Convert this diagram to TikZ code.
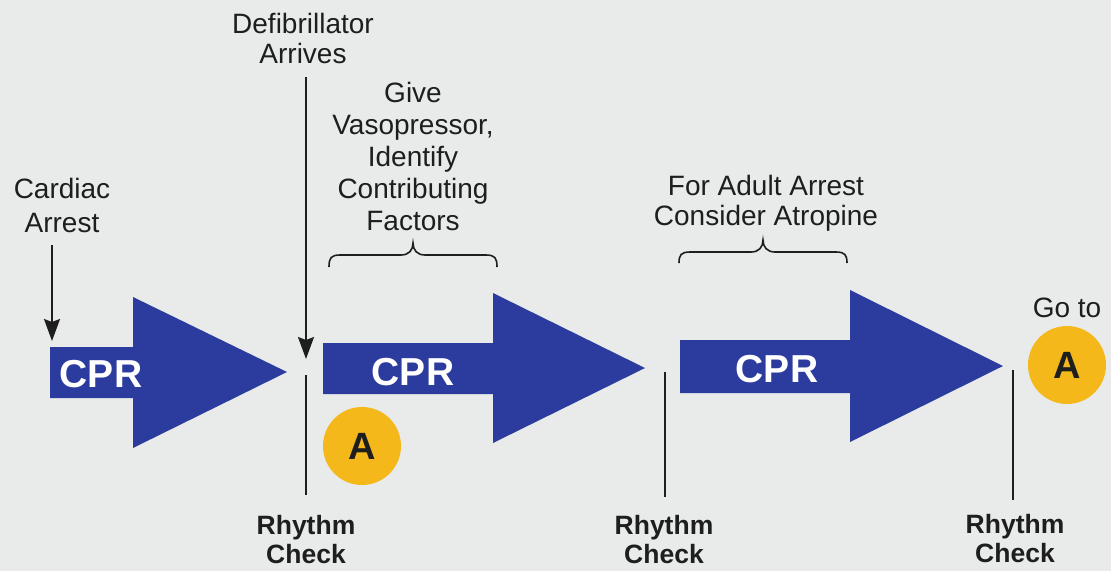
\documentclass[tikz,border=0pt]{standalone}
\usepackage{fontspec}
\setmainfont{Liberation Sans}
\usetikzlibrary{arrows.meta}
\definecolor{bg}{HTML}{E9EBEB}
\definecolor{cprblue}{HTML}{2C3C9E}
\definecolor{ayellow}{HTML}{F4B81A}
\definecolor{ink}{HTML}{1E1E1E}
\begin{document}
\begin{tikzpicture}[x=1pt,y=-1pt,
  lbl/.style={font=\fontsize{28}{31}\selectfont, text=ink, align=center, inner sep=0pt, anchor=base},
  rc/.style={font=\fontsize{26.5}{29}\selectfont\bfseries, text=ink, align=center, inner sep=0pt, anchor=base},
  cpr/.style={font=\fontsize{39}{39}\selectfont\bfseries, text=white, inner sep=0pt, anchor=base},
  bigarrow/.style={fill=cprblue},
  marker/.style={circle, fill=ayellow, minimum size=78pt, inner sep=0pt, font=\fontsize{38}{38}\selectfont\bfseries, text=ink},
  tick/.style={draw=ink, line width=1.8pt},
  ptr/.style={tick, -{Stealth[length=22pt,width=16pt,inset=3pt]}},
  brace/.style={draw=ink, line width=1.6pt}]
\fill[bg] (0,0) rectangle (1111,571);
\useasboundingbox (0,0) rectangle (1111,571);

% big arrows
\fill[bigarrow] (50,347) -- (133,347) -- (133,297) -- (287,372) -- (133,448) -- (133,398) -- (50,398) -- cycle;
\fill[bigarrow] (323,343) -- (493,343) -- (493,293) -- (645,368) -- (493,443) -- (493,394) -- (323,394) -- cycle;
\fill[bigarrow] (680,340) -- (850,340) -- (850,290) -- (1003,366) -- (850,442) -- (850,393) -- (680,393) -- cycle;

\node[cpr] (cpr1) at (101,387) {CPR};
\node[cpr] (cpr2) at (413,385) {CPR};
\node[cpr] (cpr3) at (777,382) {CPR};

% markers
\node[marker] (a1) at (362,446) {A};
\node[marker] (a2) at (1067,365) {A};
\node[lbl] (goto) at (1067,317) {Go to};

% top labels (anchored at the baseline of the last line)
\node[lbl, font=\fontsize{28}{34}\selectfont] (cardiac) at (62,232) {Cardiac\\Arrest};
\node[lbl, font=\fontsize{28}{30}\selectfont] (defib) at (303,63) {Defibrillator\\Arrives};
\node[lbl, font=\fontsize{28}{32}\selectfont] (give) at (413,230) {Give\\Vasopressor,\\Identify\\Contributing\\Factors};
\node[lbl, font=\fontsize{28}{30}\selectfont] (adult) at (766,225) {For Adult Arrest\\Consider Atropine};

% rhythm check labels
\node[rc] (rc1) at (306,563) {Rhythm\\Check};
\node[rc] (rc2) at (664,563) {Rhythm\\Check};
\node[rc] (rc3) at (1015,562) {Rhythm\\Check};

% connector coordinates
\coordinate (cardtop) at (52,245);
\coordinate (cardtip) at (52,341);
\coordinate (deftop) at (306,77);
\coordinate (deftip) at (306,359);
\coordinate (r1top) at (306,375);
\coordinate (r1bot) at (306,495);
\coordinate (r2top) at (665,372);
\coordinate (r2bot) at (665,497);
\coordinate (r3top) at (1013,370);
\coordinate (r3bot) at (1013,500);

\draw[ptr] (cardtop) -- (cardtip);
\draw[ptr] (deftop) -- (deftip);
\draw[tick] (r1top) -- (r1bot);
\draw[tick] (r2top) -- (r2bot);
\draw[tick] (r3top) -- (r3bot);

% braces
\draw[brace] (329,267) .. controls (329,258) and (331,255) .. (340,255) -- (401,255)
  .. controls (409,255) and (413,250) .. (413,243)
  .. controls (413,250) and (417,255) .. (425,255) -- (486,255)
  .. controls (495,255) and (497,258) .. (497,267);
\draw[brace] (679,263) .. controls (679,255) and (681,252) .. (690,252) -- (751,252)
  .. controls (759,252) and (763,247) .. (763,240)
  .. controls (763,247) and (767,252) .. (775,252) -- (836,252)
  .. controls (845,252) and (847,255) .. (847,263);
\end{tikzpicture}
\end{document}
